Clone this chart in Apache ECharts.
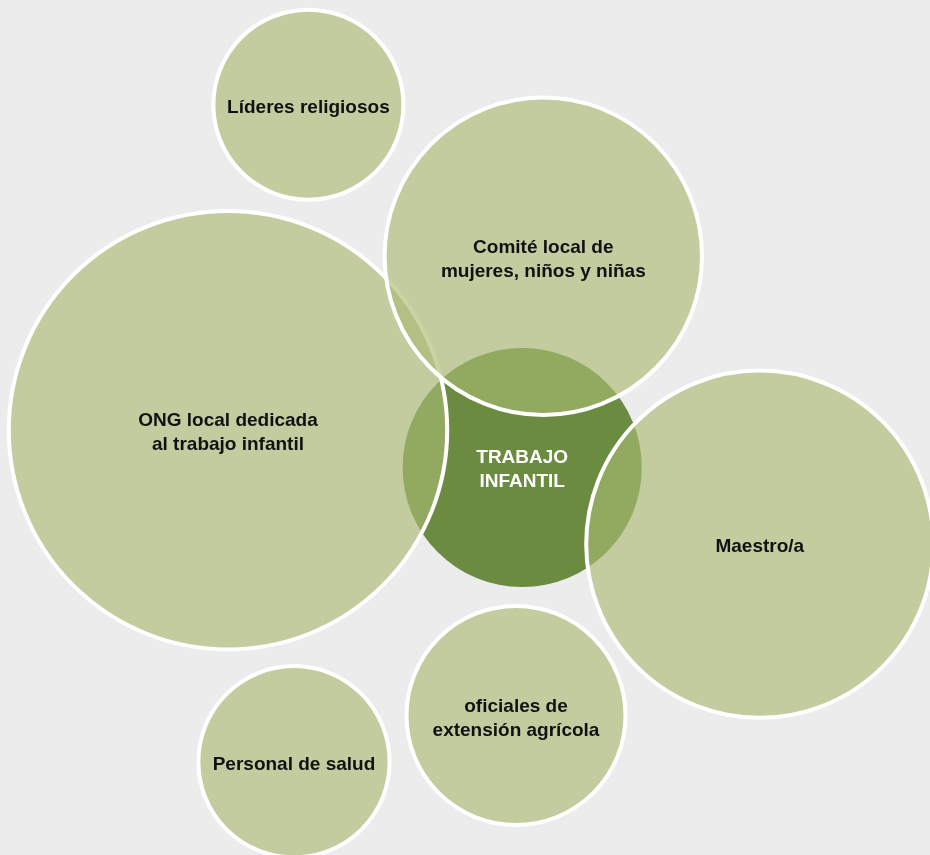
<!DOCTYPE html>
<html>
<head>
<meta charset="utf-8">
<script src="https://cdn.jsdelivr.net/npm/echarts@6/dist/echarts.min.js"></script>
<style>
html,body{margin:0;padding:0;background:#ececec;}
#chart{width:930px;height:855px;}
</style>
</head>
<body>
<div id="chart"></div>
<script>
// Outer circles (draw order matters: ONG under Comité)
const names = ['ONG local dedicada\nal trabajo infantil', 'Comité local de\nmujeres, niños y niñas', 'Líderes religiosos', 'Maestro/a', 'oficiales de\nextensión agrícola', 'Personal de salud'];
const centerX = [228, 543.3, 308.4, 759.8, 516, 294];
const centerY = [430.2, 256.3, 104.7, 544.2, 715.5, 761.7];
const radius  = [219.2, 158.7, 95, 173.6, 109.5, 95.6];

// Central circle
const coreName = ['TRABAJO\nINFANTIL'];
const coreX = [522.2];
const coreY = [467.5];
const coreR = [119.6];

const outerData = names.map((n, i) => ({ name: n, value: [centerX[i], centerY[i], radius[i]] }));
const coreData = coreName.map((n, i) => ({ name: n, value: [coreX[i], coreY[i], coreR[i]] }));

const chart = echarts.init(document.getElementById('chart'));
const font = "'Liberation Sans', Arial, sans-serif";
chart.setOption({
  backgroundColor: '#ececec',
  animation: false,
  grid: { left: 0, right: 0, top: 0, bottom: 0 },
  xAxis: { type: 'value', min: 0, max: 930, show: false },
  yAxis: { type: 'value', min: 0, max: 855, inverse: true, show: false },
  series: [
    {
      type: 'scatter',
      silent: true,
      clip: false,
      z: 1,
      data: coreData,
      symbol: 'circle',
      symbolSize: v => v[2] * 2,
      itemStyle: { color: '#6a8b40', opacity: 1 },
      label: {
        show: true, position: 'inside', formatter: p => p.name,
        color: '#ffffff', fontFamily: font, fontWeight: 'bold', fontSize: 19, lineHeight: 24,
        offset: [0, 2]
      }
    },
    {
      type: 'scatter',
      silent: true,
      clip: false,
      z: 2,
      data: outerData,
      symbol: 'circle',
      symbolSize: v => v[2] * 2,
      itemStyle: { color: 'rgba(170,186,115,0.635)', borderColor: '#ffffff', borderWidth: 4, opacity: 1 },
      label: {
        show: true, position: 'inside', formatter: p => p.name,
        color: '#111111', fontFamily: font, fontWeight: 'bold', fontSize: 19, lineHeight: 24,
        offset: [0, 3]
      }
    }
  ]
});
</script>
</body>
</html>
